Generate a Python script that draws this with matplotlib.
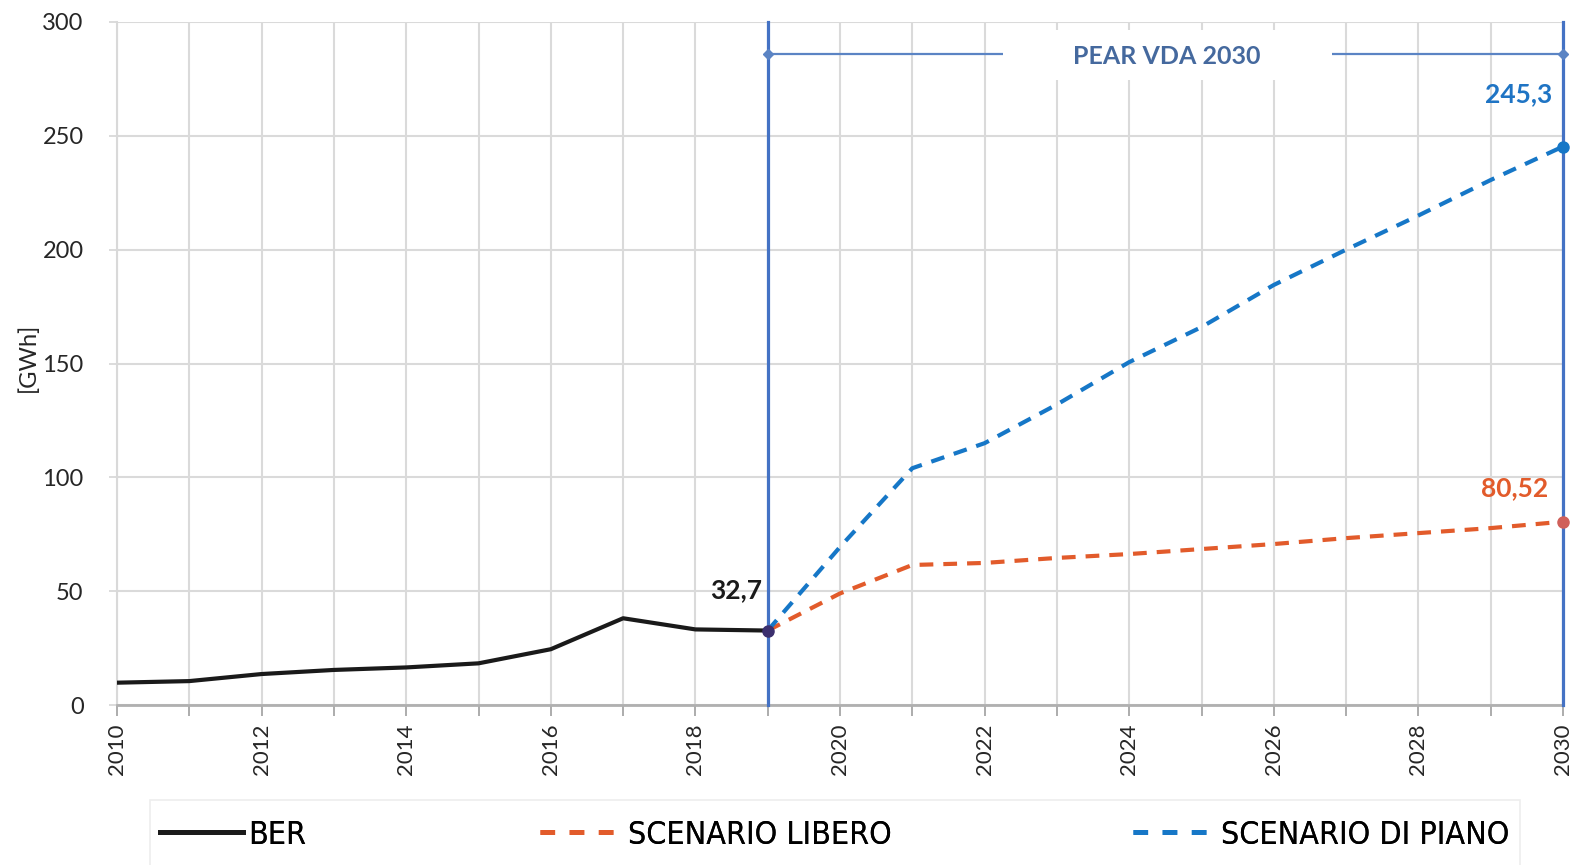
import matplotlib
matplotlib.use("Agg")
import matplotlib.pyplot as plt
import matplotlib.patches as mpatches
from matplotlib.lines import Line2D

# BER storico e scenari al 2030 [GWh]
years_ber = list(range(2010, 2020))
ber = [9.8, 10.5, 13.6, 15.4, 16.5, 18.3, 24.5, 38.1, 33.2, 32.7]

years_scen = list(range(2019, 2031))
libero = [32.7, 49.0, 61.5, 62.4, 64.6, 66.3, 68.5, 70.7, 73.3, 75.5, 77.7, 80.52]
piano = [32.7, 69.4, 104.0, 115.0, 132.0, 150.6, 166.0, 184.5, 200.0, 215.0, 230.6, 245.3]

pear_start, pear_end = 2019, 2030
pear_label = "PEAR VDA 2030"
series_names = ["BER", "SCENARIO LIBERO", "SCENARIO DI PIANO"]

BLACK = "#1a1a1a"
ORANGE = "#e25b2b"
BLUE = "#1677c7"
LINE_BLUE = "#4472c4"
TEXT_BLUE = "#45699e"

num_font = ["Lato", "DejaVu Sans"]

fig = plt.figure(figsize=(15.72, 8.65), dpi=100)
ax = fig.add_axes([117 / 1572, 1 - 705 / 865, (1563 - 117) / 1572, (705 - 22) / 865])

ax.plot(years_ber, ber, color=BLACK, lw=3, zorder=5, solid_joinstyle="round")
ax.plot(years_scen, libero, color=ORANGE, lw=3, dashes=(3.3, 2.4), zorder=4)
ax.plot(years_scen, piano, color=BLUE, lw=3, dashes=(3.3, 2.4), zorder=4)

# punti evidenziati
ax.plot([2019], [ber[-1]], "o", color="#3b2f6e", ms=8, zorder=6)
ax.plot([2030], [piano[-1]], "o", color=BLUE, ms=8, zorder=6, clip_on=False)
ax.plot([2030], [libero[-1]], "o", color="#d0605a", ms=8, zorder=6, clip_on=False)

# periodo del piano
for x in (pear_start, pear_end):
    ax.plot([x, x], [0, 300], color=LINE_BLUE, lw=2.3, zorder=3, clip_on=False)
ax.plot([pear_start, pear_end], [286, 286], color="#5b84c4", lw=1.6, zorder=3,
        marker="D", ms=5, clip_on=False)
ax.add_patch(mpatches.Rectangle((2022.25, 274.5), 4.55, 22, facecolor="white",
                                edgecolor="none", zorder=3.5))
ax.text((2022.25 + 2026.8) / 2, 285, pear_label, color=TEXT_BLUE, fontsize=18,
        fontweight="bold", family=num_font, ha="center", va="center", zorder=4)

# etichette dei valori
label_kw = dict(textcoords="offset pixels", ha="center", va="center", fontsize=19,
                fontweight="bold", family=num_font, zorder=7)
ax.annotate("32,7", (2019, ber[-1]), xytext=(-32, 40), color=BLACK, **label_kw)
ax.annotate("245,3", (2030, piano[-1]), xytext=(-44, 52), color="#1f74c4", **label_kw)
ax.annotate("80,52", (2030, libero[-1]), xytext=(-48, 34), color=ORANGE, **label_kw)

ax.set_xlim(2010, 2030)
ax.set_ylim(0, 300)
ax.set_xticks(range(2010, 2031))
ax.set_xticklabels([str(y) if y % 2 == 0 else "" for y in range(2010, 2031)],
                   rotation=90, family=num_font, fontsize=16, color="#262626")
ax.set_yticks(range(0, 301, 50))
ax.set_yticklabels([str(v) for v in range(0, 301, 50)], family=num_font,
                   fontsize=17, color="#262626")
ax.tick_params(axis="x", length=8, width=1.3, color="#a6a6a6", pad=5)
ax.tick_params(axis="y", length=6, width=1.3, color="#d9d9d9", pad=18)

ax.grid(True, color="#dadada", lw=1.5)
ax.set_axisbelow(True)
for side in ("top", "right"):
    ax.spines[side].set_visible(False)
ax.spines["left"].set_color("#d9d9d9")
ax.spines["left"].set_linewidth(1.5)
ax.spines["bottom"].set_color("#b0b0b0")
ax.spines["bottom"].set_linewidth(2)

fig.text(28 / 1572, 1 - 357 / 865, "[GWh]", rotation=90, ha="center", va="center",
         fontsize=17, family=num_font, color="#262626")

# legenda in basso, una voce per volta
fig.patches.append(mpatches.Rectangle((150 / 1572, -0.05), 1370 / 1572, 0.05 + 65 / 865,
                                      transform=fig.transFigure, facecolor="none",
                                      edgecolor="#eeeeee", lw=1.2))
handles = [
    Line2D([], [], color=BLACK, lw=3.5),
    Line2D([], [], color=ORANGE, lw=3.5, dashes=(3, 3)),
    Line2D([], [], color=BLUE, lw=3.5, dashes=(3, 3)),
]
leg_x = [160, 540, 1133]
for h, name, x0 in zip(handles, series_names, leg_x):
    leg = fig.legend([h], [name], loc="center left",
                     bbox_to_anchor=(x0 / 1572, 1 - 835 / 865),
                     frameon=False, borderpad=0, borderaxespad=0,
                     handlelength=2.6, handletextpad=0.15,
                     prop={"family": "DejaVu Sans", "stretch": "condensed", "size": 23})
    fig.add_artist(leg)

fig.savefig("out.png", dpi=100, facecolor="white")
